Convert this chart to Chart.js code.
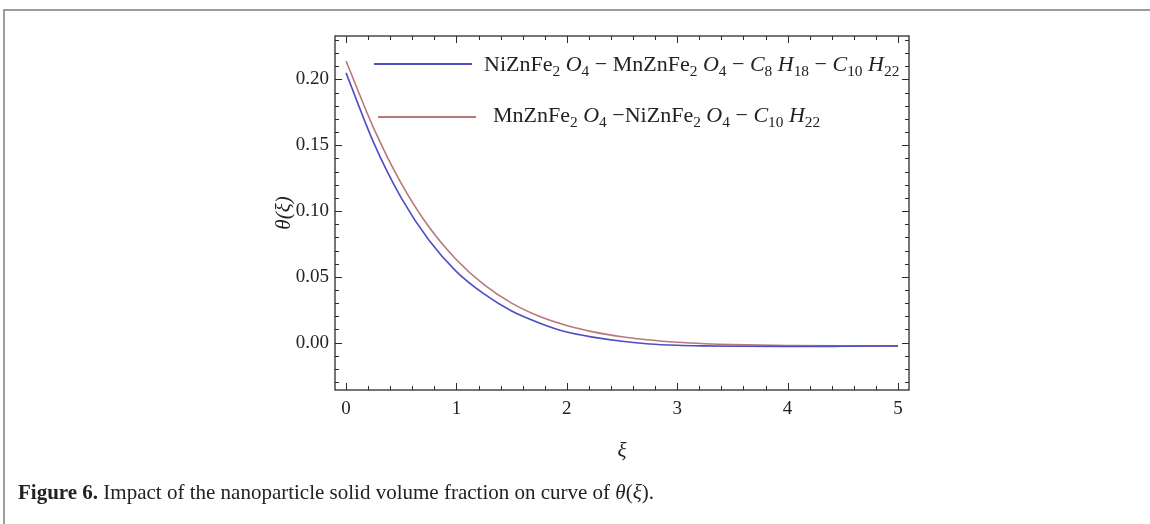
<!DOCTYPE html>
<html>
<head>
<meta charset="utf-8">
<title>Theta profile</title>
<script src="https://cdn.jsdelivr.net/npm/chart.js@4.4.0/dist/chart.umd.min.js"></script>
<style>
  html, body { margin: 0; padding: 0; background: #fff; }
  #figure {
    position: relative; width: 1150px; height: 524px; overflow: hidden;
    font-family: "Liberation Serif", "Times New Roman", serif; color: #222;
  }
  #frame {
    position: absolute; left: 3px; top: 9px; width: 1160px; height: 530px;
    border-top: 2px solid #9c9c9c; border-left: 2px solid #9c9c9c;
  }
  #plot { position: absolute; left: 0; top: 0; }
  .legend-row {
    position: absolute; font-size: 22px; line-height: 22px; white-space: nowrap;
  }
  .legend-row sub { font-size: 0.7em; vertical-align: -0.3em; line-height: 0; }
  .swatch { position: absolute; height: 2px; }
  .axis-title {
    position: absolute; font-size: 21px; font-style: italic; white-space: nowrap;
    width: 60px; height: 24px; line-height: 24px; text-align: center;
  }
  #caption { position: absolute; left: 18px; top: 480px; font-size: 21px; white-space: nowrap; }
  #caption b { font-weight: bold; }
</style>
</head>
<body>
<div id="figure">
  <div id="frame"></div>
  <canvas id="plot" width="1150" height="524"></canvas>
  <div id="legend"></div>
  <div class="axis-title" id="y-title" style="left:253px; top:201px; transform: rotate(-90deg);">θ(ξ)</div>
  <div class="axis-title" id="x-title" style="left:592px; top:438px;">ξ</div>
  <div id="caption"><b>Figure 6.</b> Impact of the nanoparticle solid volume fraction on curve of <i>θ</i>(<i>ξ</i>).</div>
</div>

<script>
// similarity variable
const xi = [0, 0.25, 0.5, 0.75, 1.0, 1.25, 1.5, 1.75, 2.0, 2.25, 2.5, 2.75, 3.0, 3.25, 3.5, 4.0, 4.5, 5.0];

// temperature profiles for the two ferrite mixtures
const thetaNiMn = [0.205, 0.152, 0.110, 0.078, 0.054, 0.037, 0.024, 0.015, 0.008, 0.004, 0.001, -0.001, -0.002, -0.0025, -0.0028, -0.003, -0.0028, -0.0025];
const thetaMnNi = [0.214, 0.163, 0.121, 0.088, 0.063, 0.044, 0.030, 0.020, 0.013, 0.008, 0.0045, 0.002, 0.0003, -0.0008, -0.0015, -0.0022, -0.0025, -0.0025];

const seriesLabels = [
  'NiZnFe<sub>2</sub> <i>O</i><sub>4</sub> &minus; MnZnFe<sub>2</sub> <i>O</i><sub>4</sub> &minus; <i>C</i><sub>8</sub> <i>H</i><sub>18</sub> &minus; <i>C</i><sub>10</sub> <i>H</i><sub>22</sub>',
  'MnZnFe<sub>2</sub> <i>O</i><sub>4</sub> &minus;NiZnFe<sub>2</sub> <i>O</i><sub>4</sub> &minus; <i>C</i><sub>10</sub> <i>H</i><sub>22</sub>'
];

const xTickValues = [0, 1, 2, 3, 4, 5];
const yTickValues = [0, 0.05, 0.10, 0.15, 0.20];

const BLUE = '#4d4dc4';
const RED = '#b97878';
const tickFont = { family: '"Liberation Serif", "Times New Roman", serif', size: 19 };

function toPoints(ys) {
  return xi.map((x, i) => ({ x: x, y: ys[i] }));
}

// Mathematica-style frame: box on all four sides with inward major/minor ticks
const frameTicks = {
  id: 'frameTicks',
  afterDraw(chart) {
    const { ctx, chartArea: a, scales: { x, y } } = chart;
    ctx.save();
    ctx.strokeStyle = '#2b2b2b';
    ctx.lineWidth = 1.3;
    ctx.strokeRect(a.left, a.top, a.right - a.left, a.bottom - a.top);

    ctx.lineWidth = 1;
    ctx.beginPath();
    for (let i = 0; i <= 25; i++) {
      const px = Math.round(x.getPixelForValue(i * 0.2)) + 0.5;
      const len = i % 5 === 0 ? 7 : 4;
      ctx.moveTo(px, a.bottom); ctx.lineTo(px, a.bottom - len);
      ctx.moveTo(px, a.top); ctx.lineTo(px, a.top + len);
    }
    for (let i = -3; i <= 23; i++) {
      const py = Math.round(y.getPixelForValue(i * 0.01)) + 0.5;
      const len = i % 5 === 0 ? 7 : 4;
      ctx.moveTo(a.left, py); ctx.lineTo(a.left + len, py);
      ctx.moveTo(a.right, py); ctx.lineTo(a.right - len, py);
    }
    ctx.stroke();
    ctx.restore();
  }
};

const chart = new Chart(document.getElementById('plot').getContext('2d'), {
  type: 'scatter',
  data: {
    datasets: [
      { label: 'NiZnFe2O4-MnZnFe2O4-C8H18-C10H22', data: toPoints(thetaNiMn), borderColor: BLUE },
      { label: 'MnZnFe2O4-NiZnFe2O4-C10H22', data: toPoints(thetaMnNi), borderColor: RED }
    ].map(d => Object.assign(d, {
      showLine: true, pointRadius: 0, borderWidth: 1.6, cubicInterpolationMode: 'monotone', fill: false
    }))
  },
  options: {
    responsive: false,
    animation: false,
    devicePixelRatio: 1,
    layout: { padding: { left: 260, right: 241, top: 36, bottom: 94 } },
    plugins: { legend: { display: false }, tooltip: { enabled: false } },
    scales: {
      x: {
        type: 'linear', min: -0.1, max: 5.1,
        grid: { display: false, drawTicks: false },
        border: { display: false },
        afterBuildTicks: axis => { axis.ticks = xTickValues.map(v => ({ value: v })); },
        afterFit: axis => { axis.height = 40; },
        ticks: { font: tickFont, color: '#222', padding: 8, maxRotation: 0, callback: v => String(v) }
      },
      y: {
        type: 'linear', min: -0.036, max: 0.233,
        grid: { display: false, drawTicks: false },
        border: { display: false },
        afterBuildTicks: axis => { axis.ticks = yTickValues.map(v => ({ value: v })); },
        afterFit: axis => { axis.width = 75; },
        ticks: { font: tickFont, color: '#222', padding: 6, callback: v => v.toFixed(2) }
      }
    }
  },
  plugins: [frameTicks]
});

// legend with subscripted formulas, placed inside the frame
const legendRows = [
  { top: 53, lineLeft: 374, lineRight: 472, lineY: 63, textLeft: 484 },
  { top: 104, lineLeft: 378, lineRight: 476, lineY: 116, textLeft: 493 }
];
const legend = document.getElementById('legend');
chart.data.datasets.forEach((ds, i) => {
  const r = legendRows[i];
  const sw = document.createElement('div');
  sw.className = 'swatch';
  sw.style.cssText = `left:${r.lineLeft}px; top:${r.lineY}px; width:${r.lineRight - r.lineLeft}px; background:${ds.borderColor};`;
  legend.appendChild(sw);
  const row = document.createElement('div');
  row.className = 'legend-row';
  row.style.left = r.textLeft + 'px';
  row.style.top = r.top + 'px';
  row.innerHTML = seriesLabels[i];
  legend.appendChild(row);
});
</script>
</body>
</html>
